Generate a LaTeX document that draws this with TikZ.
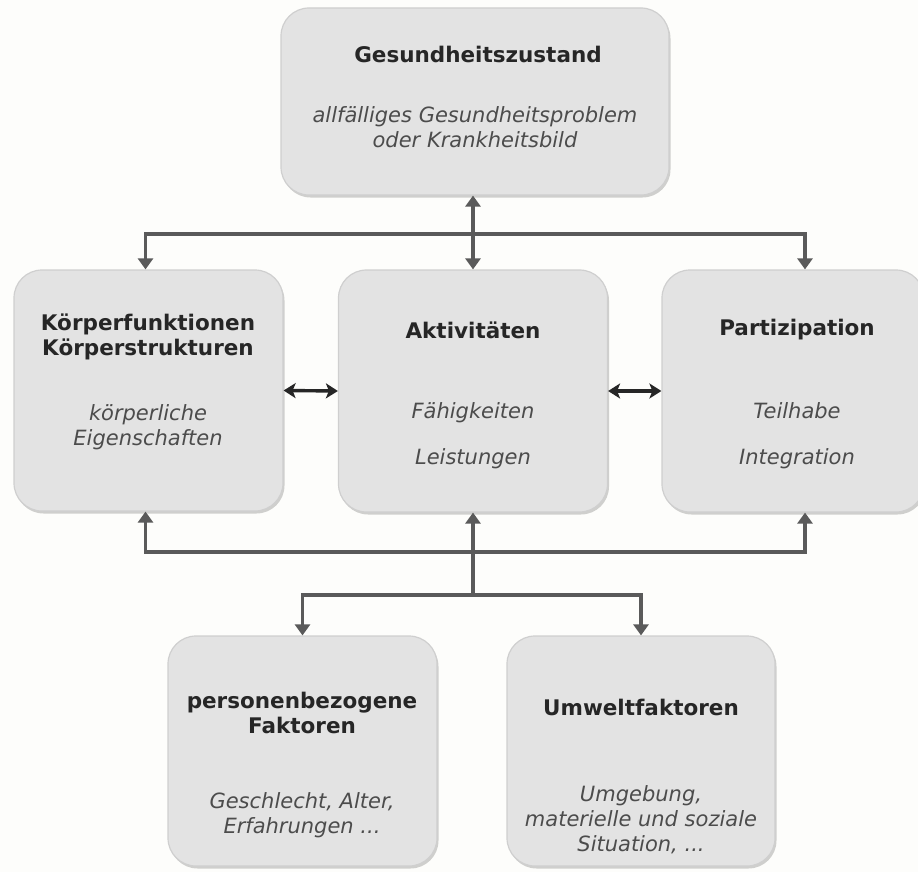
\documentclass[tikz,border=0pt]{standalone}
\usepackage{fontspec}
\setmainfont{DejaVu Sans}
\usepackage{tikz}
\usetikzlibrary{arrows.meta,shadows}
\definecolor{boxfill}{HTML}{E3E3E3}
\definecolor{boxline}{HTML}{CFCFCF}
\definecolor{linkgray}{HTML}{5A5A5A}
\definecolor{paper}{HTML}{FDFDFB}
\tikzset{
  icfbox/.style   = {draw=boxline,line width=1.2pt,fill=boxfill,rounded corners=28pt,
                     drop shadow={shadow xshift=1.5pt,shadow yshift=-2.5pt,fill=black,opacity=0.18}},
  boxtitle/.style = {font=\fontsize{21.5}{25}\selectfont\bfseries,text=black!85,align=center},
  boxbody/.style  = {font=\fontsize{21}{25}\selectfont\itshape,text=black!70,align=center},
  linkarr/.style  = {-{Triangle[length=11pt,width=15pt]},line width=3.2pt,linkgray},
  duoarr/.style   = {{Stealth[length=12pt,width=15pt,inset=3pt]}-{Stealth[length=12pt,width=15pt,inset=3pt]},line width=3.4pt,black!85}
}
\begin{document}
\begin{tikzpicture}[x=1pt,y=-1pt]
  \fill[paper] (0,0) rectangle (918,872);
  \useasboundingbox (0,0) rectangle (918,872);
  % boxes
  \node[icfbox,minimum width=388pt,minimum height=187pt] (gesund) at (475,101.5) {};
  \node[icfbox,minimum width=269pt,minimum height=241pt] (koerper) at (148.5,390.5) {};
  \node[icfbox,minimum width=269pt,minimum height=242pt] (aktiv) at (473,391) {};
  \node[icfbox,minimum width=262pt,minimum height=242pt] (partiz) at (793,391) {};
  \node[icfbox,minimum width=269pt,minimum height=230pt] (person) at (302.5,751) {};
  \node[icfbox,minimum width=268pt,minimum height=230pt] (umwelt) at (641,751) {};
  % texts
  \node[boxtitle] (gesund-t) at (478,54) {Gesundheitszustand};
  \node[boxbody]  (gesund-b) at (475,127) {allfälliges Gesundheitsproblem\\oder Krankheitsbild};
  \node[boxtitle] (koerper-t) at (148,337) {Körperfunktionen\\Körperstrukturen};
  \node[boxbody]  (koerper-b) at (148,427) {körperliche\\Eigenschaften};
  \node[boxtitle] (aktiv-t) at (473,330) {Aktivitäten};
  \node[boxbody]  (aktiv-b) at (473,436) {Fähigkeiten\\[21pt]Leistungen};
  \node[boxtitle] (partiz-t) at (797,330) {Partizipation};
  \node[boxbody]  (partiz-b) at (797,436) {Teilhabe\\[21pt]Integration};
  \node[boxtitle] (person-t) at (302,713) {personenbezogene\\Faktoren};
  \node[boxbody]  (person-b) at (302,815) {Geschlecht, Alter,\\Erfahrungen ...};
  \node[boxtitle] (umwelt-t) at (641,707) {Umweltfaktoren};
  \node[boxbody]  (umwelt-b) at (641,820) {Umgebung,\\materielle und soziale\\Situation, ...};
  % connectors
  \coordinate (split) at (473,234);
  \coordinate (join)  at (473,552);
  \coordinate (fork)  at (473,595);
  \draw[linkarr] (split) -| ([xshift=-3pt]koerper.north);
  \draw[linkarr] (split) -| ([xshift=12pt]partiz.north);
  \draw[linkarr,{Triangle[length=11pt,width=15pt]}-{Triangle[length=11pt,width=15pt]}] (gesund.south -| aktiv.north) -- (aktiv.north);
  \draw[linkarr] (join) -| ([xshift=-3pt]koerper.south);
  \draw[linkarr] (join) -| ([xshift=12pt]partiz.south);
  \draw[linkarr] (fork) -- (aktiv.south);
  \draw[linkarr] (fork) -| (person.north);
  \draw[linkarr] (fork) -| (umwelt.north);
  \draw[duoarr] (koerper.east) -- (aktiv.west);
  \draw[duoarr] (aktiv.east) -- (partiz.west);
\end{tikzpicture}
\end{document}
